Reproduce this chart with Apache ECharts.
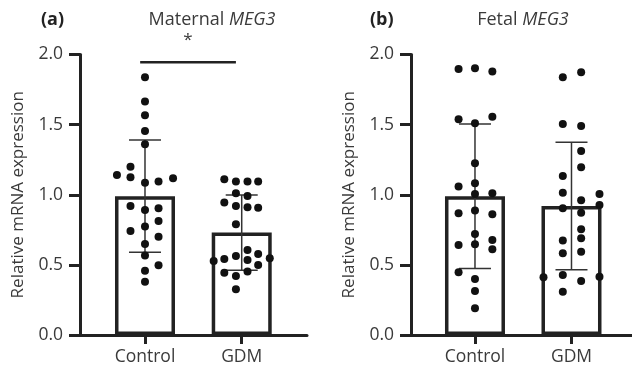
<!DOCTYPE html>
<html>
<head>
<meta charset="utf-8">
<script src="https://cdn.jsdelivr.net/npm/echarts@6/dist/echarts.min.js"></script>
<style>
  html, body { margin: 0; padding: 0; background: #fff; }
  #chart { width: 632px; height: 373px; }
</style>
</head>
<body>
<div id="chart"></div>
<script>
const categories = ['Control', 'GDM']
const yTicks = [0, 0.5, 1.0, 1.5, 2.0]

// panel (a) maternal MEG3, dot values and horizontal jitter (in category units)
const maternalControl = [1.838, 1.664, 1.567, 1.455, 1.36, 1.2, 1.141, 1.125, 1.086, 1.094, 1.118,
  0.92, 0.892, 0.904, 0.813, 0.742, 0.773, 0.701, 0.649, 0.566, 0.497, 0.459, 0.38]
const maternalControlX = [0, 0, 0, 0, 0, -0.15, -0.29, -0.15, 0, 0.14, 0.29,
  -0.15, 0, 0.14, 0.14, -0.15, 0, 0.14, 0, 0, 0.14, 0, 0]
const maternalGDM = [1.11, 1.094, 1.094, 1.094, 1.011, 0.991, 0.944, 0.92, 0.911, 0.908, 0.789,
  0.606, 0.563, 0.578, 0.528, 0.542, 0.535, 0.547, 0.499, 0.444, 0.421, 0.452, 0.326]
const maternalGDMX = [-0.18, -0.06, 0.06, 0.17, -0.06, 0.06, -0.18, -0.06, 0.06, 0.17, -0.06,
  0.06, -0.06, 0.17, -0.29, -0.18, 0.06, 0.29, 0.17, -0.18, -0.06, 0.06, -0.06]
const maternalMean = [0.99, 0.73]
const maternalSD = [0.4, 0.268]

// panel (b) fetal MEG3
const fetalControl = [1.897, 1.902, 1.878, 1.538, 1.51, 1.557, 1.225, 1.058, 1.082, 1.006, 1.011,
  0.868, 0.887, 0.861, 0.72, 0.642, 0.647, 0.678, 0.611, 0.447, 0.399, 0.314, 0.19]
const fetalControlX = [-0.17, 0, 0.18, -0.17, 0, 0.18, 0, -0.17, 0, 0, 0.18,
  -0.17, 0, 0.18, 0, -0.17, 0, 0.18, 0.18, -0.17, 0, 0, 0]
const fetalGDM = [1.838, 1.874, 1.505, 1.491, 1.312, 1.196, 1.134, 1.015, 1.006, 0.96, 0.927,
  0.904, 0.872, 0.754, 0.69, 0.673, 0.583, 0.594, 0.412, 0.428, 0.416, 0.385, 0.309]
const fetalGDMX = [-0.09, 0.1, -0.09, 0.1, 0.1, 0.1, -0.09, -0.09, 0.29, 0.1, 0.29,
  -0.09, 0.1, 0.1, 0.1, -0.09, -0.09, 0.1, -0.29, -0.09, 0.29, 0.1, -0.09]
const fetalMean = [0.99, 0.92]
const fetalSD = [0.515, 0.455]

// significance bracket for panel (a): [from, to, level]
const maternalSig = [-0.05, 0.94, 1.945]

const ink = '#222'
const textColor = '#3a3a3a'
const font = 'Open Sans'

const dots = (vals, xs, cat) => vals.map((v, i) => [cat + xs[i], v])

const chart = echarts.init(document.getElementById('chart'), null, { renderer: 'canvas' })

const makeX = (idx, min, max) => ({
  type: 'value', gridIndex: idx, min, max,
  splitLine: { show: false },
  axisLine: { show: true, onZero: false, lineStyle: { color: ink, width: 3 } },
  axisTick: { show: true, customValues: [0, 1], length: 9, lineStyle: { color: ink, width: 3 } },
  axisLabel: {
    customValues: [0, 1], margin: 13, color: textColor, fontFamily: font, fontSize: 17.5,
    formatter: v => categories[Math.round(v)]
  }
})

const makeY = idx => ({
  type: 'value', gridIndex: idx, min: yTicks[0], max: yTicks[yTicks.length - 1], interval: 0.5,
  name: 'Relative mRNA expression', nameLocation: 'middle', nameGap: 53,
  nameTextStyle: { color: textColor, fontFamily: font, fontSize: 17 },
  splitLine: { show: false },
  axisLine: { show: true, onZero: false, lineStyle: { color: ink, width: 3 } },
  axisTick: { show: true, length: 11, lineStyle: { color: ink, width: 3 } },
  axisLabel: { margin: 17, color: textColor, fontFamily: font, fontSize: 17.5, formatter: v => v.toFixed(1) }
})

const barSeries = (idx, mean) => ({
  type: 'bar', xAxisIndex: idx, yAxisIndex: idx, barWidth: 60,
  data: mean.map((m, i) => [i, m]),
  itemStyle: { color: '#fff', borderColor: ink, borderWidth: 3.5 },
  silent: true, z: 1
})

const errSeries = (idx, mean, sd) => ({
  type: 'custom', xAxisIndex: idx, yAxisIndex: idx, z: 3, silent: true,
  data: mean.map((m, i) => [i, m - sd[i], m + sd[i]]),
  renderItem: (params, api) => {
    const lo = api.coord([api.value(0), api.value(1)])
    const hi = api.coord([api.value(0), api.value(2)])
    const half = 16
    const style = { stroke: '#333', lineWidth: 1.5 }
    return {
      type: 'group', children: [
        { type: 'line', shape: { x1: lo[0], y1: lo[1], x2: hi[0], y2: hi[1] }, style },
        { type: 'line', shape: { x1: hi[0] - half, y1: hi[1], x2: hi[0] + half, y2: hi[1] }, style },
        { type: 'line', shape: { x1: lo[0] - half, y1: lo[1], x2: lo[0] + half, y2: lo[1] }, style }
      ]
    }
  }
})

const dotSeries = (idx, data) => ({
  type: 'scatter', xAxisIndex: idx, yAxisIndex: idx, symbolSize: 8, z: 4,
  itemStyle: { color: '#111', opacity: 1 }, silent: true, data
})

const titleStyle = {
  rich: {
    n: { fontFamily: font, fontSize: 18, color: textColor, fontWeight: 'normal' },
    i: { fontFamily: font, fontSize: 18, color: textColor, fontWeight: 'normal', fontStyle: 'italic' }
  }
}
const tagStyle = { fontFamily: font, fontSize: 18, fontWeight: 'bold', color: '#222' }

chart.setOption({
  animation: false,
  backgroundColor: '#fff',
  grid: [
    { left: 80, top: 54.5, right: 325, bottom: 38 },
    { left: 411, top: 54.5, right: 0, bottom: 38 }
  ],
  title: [
    { text: '(a)', left: 36, top: 6, textStyle: tagStyle },
    { text: '{n|Maternal }{i|MEG3}', left: 207, top: 6, textAlign: 'center', textStyle: titleStyle },
    { text: '(b)', left: 365, top: 6, textStyle: tagStyle },
    { text: '{n|Fetal }{i|MEG3}', left: 518, top: 6, textAlign: 'center', textStyle: titleStyle }
  ],
  xAxis: [makeX(0, -0.672, 1.675), makeX(1, -0.663, 1.627)],
  yAxis: [makeY(0), makeY(1)],
  series: [
    barSeries(0, maternalMean),
    errSeries(0, maternalMean, maternalSD),
    dotSeries(0, dots(maternalControl, maternalControlX, 0).concat(dots(maternalGDM, maternalGDMX, 1))),
    barSeries(1, fetalMean),
    errSeries(1, fetalMean, fetalSD),
    dotSeries(1, dots(fetalControl, fetalControlX, 0).concat(dots(fetalGDM, fetalGDMX, 1))),
    {
      type: 'custom', xAxisIndex: 0, yAxisIndex: 0, clip: false, silent: true, z: 5,
      data: [maternalSig],
      renderItem: (params, api) => {
        const a = api.coord([api.value(0), api.value(2)])
        const b = api.coord([api.value(1), api.value(2)])
        return {
          type: 'group', children: [
            { type: 'line', shape: { x1: a[0], y1: a[1], x2: b[0], y2: b[1] }, style: { stroke: ink, lineWidth: 2.5 } },
            { type: 'text', style: { text: '*', x: (a[0] + b[0]) / 2, y: a[1] - 22, align: 'center', verticalAlign: 'middle',
              font: '17px "Open Sans"', fill: textColor } }
          ]
        }
      }
    }
  ]
})

window.addEventListener('resize', () => chart.resize())
</script>
</body>
</html>
